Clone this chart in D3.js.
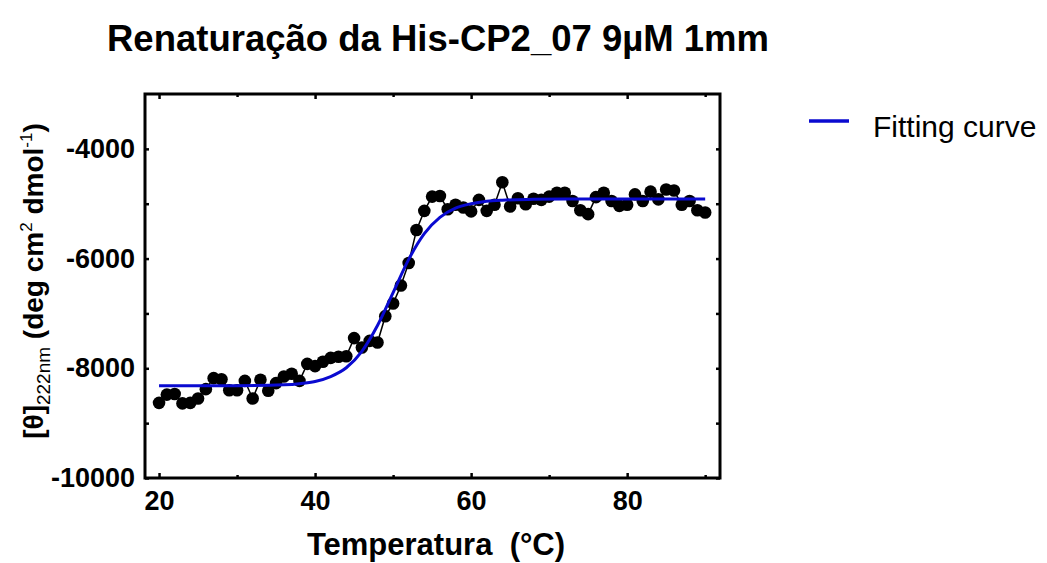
<!DOCTYPE html>
<html lang="pt">
<head>
<meta charset="UTF-8">
<title>Renaturação da His-CP2_07 9µM 1mm</title>
<script src="https://d3js.org/d3.v7.min.js"></script>
<style>
    body { margin: 0; background: #fff; }
    svg text { font-family: "Liberation Sans", Arial, sans-serif; fill: #000; }
</style>
</head>
<body>
<svg id="chart" width="1047" height="563"></svg>
<script>
    // measured points (temperature in °C, [θ]222nm)
    const temperature = [20, 21, 22, 23, 24, 25, 26, 27, 28, 29, 30, 31, 32, 33, 34, 35, 36, 37, 38, 39,
        40, 41, 42, 43, 44, 45, 46, 47, 48, 49, 50, 51, 52, 53, 54, 55, 56, 57, 58, 59,
        60, 61, 62, 63, 64, 65, 66, 67, 68, 69, 70, 71, 72, 73, 74, 75, 76, 77, 78, 79,
        80, 81, 82, 83, 84, 85, 86, 87, 88, 89, 90];
    const ellipticity = [-8630, -8480, -8470, -8640, -8630, -8550, -8380, -8180, -8200, -8400,
        -8400, -8230, -8550, -8210, -8410, -8270, -8150, -8100, -8230, -7920,
        -7960, -7880, -7810, -7790, -7780, -7450, -7620, -7500, -7530, -7050,
        -6820, -6490, -6080, -5480, -5130, -4870, -4860, -5100, -5020, -5070,
        -5140, -4930, -5130, -5020, -4610, -5050, -4900, -5010, -4910, -4930,
        -4870, -4800, -4800, -4950, -5120, -5190, -4880, -4800, -4950, -5040,
        -5020, -4830, -4950, -4780, -4920, -4740, -4760, -5020, -4950, -5120, -5160];

    // fitting curve
    const fitTemperature = [20, 30, 36, 38, 40, 42, 44, 46, 48, 50, 52, 54, 56, 58, 60, 62, 64, 68, 72, 90];
    const fitEllipticity = [-8320, -8318, -8300, -8280, -8240, -8150, -7990, -7690, -7220, -6620,
        -6015, -5545, -5250, -5080, -5000, -4955, -4935, -4920, -4915, -4915];

    const xMajorTicks = [20, 40, 60, 80];
    const xMinorTicks = [30, 50, 70, 90];
    const yLabelTicks = [-10000, -8000, -6000, -4000];
    const yAllTicks = [-10000, -9000, -8000, -7000, -6000, -5000, -4000];

    const plotLeft = 145, plotRight = 720, plotTop = 94, plotBottom = 478;
    const svg = d3.select("#chart");

    const x = d3.scaleLinear().domain([18.2, 91.9]).range([plotLeft, plotRight]);
    const y = d3.scaleLinear().domain([-10000, -3000]).range([plotBottom, plotTop]);

    // title
    svg.append("text")
        .attr("x", 438).attr("y", 51)
        .attr("text-anchor", "middle")
        .style("font-size", "36.5px").style("font-weight", "bold")
        .text("Renaturação da His-CP2_07 9µM 1mm");

    // axes, ticks point inward on all four sides
    function styleAxis(g) {
        g.select(".domain").remove();
        g.selectAll(".tick line").attr("stroke", "#000").attr("stroke-width", 2.5);
        g.selectAll(".tick text")
            .style("font-family", "'Liberation Sans', Arial, sans-serif")
            .style("font-size", "27px").style("font-weight", "bold").attr("fill", "#000");
    }
    const plain = d => String(d);   // keeps the ASCII hyphen as minus sign

    svg.append("g").attr("transform", `translate(0,${plotBottom})`)
        .call(d3.axisBottom(x).tickValues(xMajorTicks).tickSize(-5).tickPadding(13).tickFormat(plain))
        .call(styleAxis);
    svg.append("g").attr("transform", `translate(0,${plotBottom})`)
        .call(d3.axisBottom(x).tickValues(xMinorTicks).tickSize(-3).tickFormat(""))
        .call(styleAxis);
    svg.append("g").attr("transform", `translate(0,${plotTop})`)
        .call(d3.axisTop(x).tickValues(xMajorTicks).tickSize(-5).tickFormat(""))
        .call(styleAxis);
    svg.append("g").attr("transform", `translate(0,${plotTop})`)
        .call(d3.axisTop(x).tickValues(xMinorTicks).tickSize(-3).tickFormat(""))
        .call(styleAxis);

    svg.append("g").attr("transform", `translate(${plotLeft},0)`)
        .call(d3.axisLeft(y).tickValues(yAllTicks).tickSize(-4).tickFormat(""))
        .call(styleAxis);
    svg.append("g").attr("transform", `translate(${plotLeft},0)`)
        .call(d3.axisLeft(y).tickValues(yLabelTicks).tickSize(0).tickPadding(10).tickFormat(plain))
        .call(styleAxis);
    svg.append("g").attr("transform", `translate(${plotRight},0)`)
        .call(d3.axisRight(y).tickValues(yAllTicks).tickSize(-4).tickFormat(""))
        .call(styleAxis);

    // frame
    svg.append("rect")
        .attr("x", plotLeft).attr("y", plotTop)
        .attr("width", plotRight - plotLeft).attr("height", plotBottom - plotTop)
        .attr("fill", "none").attr("stroke", "#000").attr("stroke-width", 3);

    // data line and points
    const points = temperature.map((t, i) => [t, ellipticity[i]]);
    const line = d3.line().x(d => x(d[0])).y(d => y(d[1]));

    svg.append("path")
        .datum(points)
        .attr("d", line)
        .attr("fill", "none").attr("stroke", "#000").attr("stroke-width", 1.5);

    svg.append("g")
        .selectAll("circle")
        .data(points)
        .join("circle")
        .attr("cx", d => x(d[0]))
        .attr("cy", d => y(d[1]))
        .attr("r", 6.3)
        .attr("fill", "#000");

    // fitting curve
    const fitPoints = fitTemperature.map((t, i) => [t, fitEllipticity[i]]);
    svg.append("path")
        .datum(fitPoints)
        .attr("d", d3.line().x(d => x(d[0])).y(d => y(d[1])).curve(d3.curveMonotoneX))
        .attr("fill", "none").attr("stroke", "#0a0ad0").attr("stroke-width", 3);

    // x axis title
    svg.append("text")
        .attr("x", 436).attr("y", 555)
        .attr("text-anchor", "middle")
        .style("font-size", "31px").style("font-weight", "bold")
        .style("white-space", "pre")
        .text("Temperatura  (°C)");

    // y axis title
    const yTitle = svg.append("text")
        .attr("transform", "translate(43,281) rotate(-90)")
        .attr("text-anchor", "middle")
        .style("font-size", "28px").style("font-weight", "bold");
    yTitle.append("tspan").text("[θ]");
    yTitle.append("tspan").attr("dy", 7).style("font-size", "19px").style("font-weight", "normal").text("222nm");
    yTitle.append("tspan").attr("dy", -7).text(" (deg cm");
    yTitle.append("tspan").attr("dy", -11).style("font-size", "17px").style("font-weight", "normal").text("2");
    yTitle.append("tspan").attr("dy", 11).text(" dmol");
    yTitle.append("tspan").attr("dy", -11).style("font-size", "17px").style("font-weight", "normal").text("-1");
    yTitle.append("tspan").attr("dy", 11).text(")");

    // legend
    svg.append("line")
        .attr("x1", 809).attr("x2", 849).attr("y1", 121).attr("y2", 121)
        .attr("stroke", "#0a0ad0").attr("stroke-width", 3.5);
    svg.append("text")
        .attr("x", 873).attr("y", 137)
        .style("font-size", "30px")
        .text("Fitting curve");
</script>
</body>
</html>
